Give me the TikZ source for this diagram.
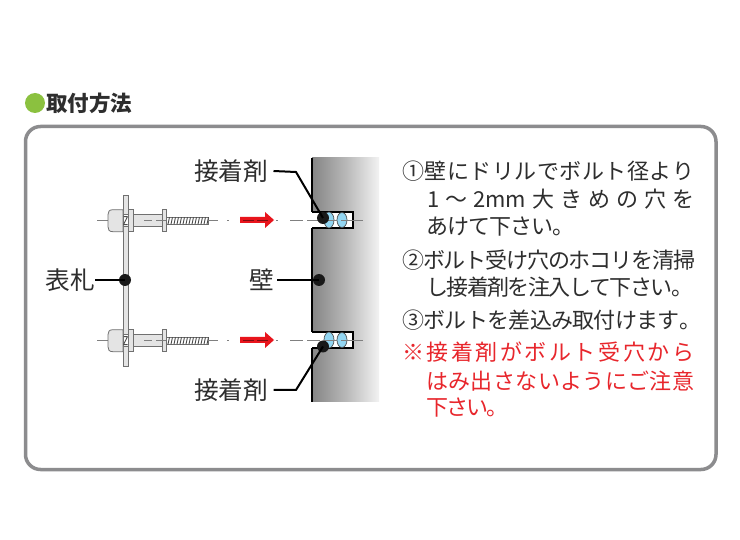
\documentclass[tikz,border=0pt]{standalone}
\usepackage{fontspec}
\setmainfont{Noto Sans CJK JP}
\usetikzlibrary{calc}
\definecolor{ink}{HTML}{2E2E2E}
\definecolor{redtx}{HTML}{E8262C}
\definecolor{arrowred}{HTML}{E8141C}
\definecolor{framegray}{HTML}{8C8C8E}
\definecolor{dotgreen}{HTML}{8BC13F}
\definecolor{boltline}{HTML}{707070}
\definecolor{boltfill}{HTML}{E4E4E4}
\definecolor{lensblue}{HTML}{93D6F2}
\makeatletter
\newcommand\spr[2]{\hbox to #1{\def\sepx{}\@tfor\chx:=#2\do{\sepx\chx\def\sepx{\hskip 0pt plus 1fil minus 1fil}}}}
\makeatother
\tikzset{
  body/.style={anchor=west,inner sep=0pt,text=ink,font=\fontsize{22}{22}\selectfont},
  redbody/.style={body,text=redtx},
  lbl/.style={inner sep=0pt,text=ink,font=\fontsize{24.7}{24.7}\selectfont},
  blackdot/.style={circle,fill=black!90,inner sep=0pt,minimum size=12pt},
  lead/.style={draw=black,line width=2pt,line join=miter},
  boltpart/.style={draw=boltline,fill=boltfill,line width=0.8pt},
  centerln/.style={draw=black!50,line width=0.7pt},
  lens/.style={draw=black!70,line width=0.7pt,fill=lensblue},
  boltpic/.pic={
    \draw[centerln] (97,0) -- (108,0);
    \draw[boltpart] (123,-11) -- (113,-11) .. controls (109,-11) and (108,-9) .. (108,-6) -- (108,6) .. controls (108,9) and (109,11) .. (113,11) -- (123,11) -- cycle;
    \draw[boltpart] (133,-6) rectangle (162,6);
    \draw[boltpart] (128,-11) rectangle (133,11);
    \draw[boltpart] (162,-11) rectangle (166.5,11);
    \draw[boltpart,fill=white] (166.5,-3.5) rectangle (208,3.5);
    \foreach \tx in {168,171,...,207} {\draw[black!70,line width=0.9pt] (\tx,3.5) -- (\tx+1.5,-3.5);}
    \draw[boltline,line width=0.9pt,fill=white] (123,-6) rectangle (128,6);
    \draw[black!70,line width=0.9pt] (123.5,4) -- (127.5,-4) (123.5,-4) -- (127.5,-4) (123.5,4) -- (127.5,4);
    \draw[centerln] (144,0) -- (152,0) (156,0) -- (166,0) (208,0) -- (218,0) (227,0) -- (229,0);
  },
  holepic/.pic={
    \fill[white] (311,-8) rectangle (353,8);
    \draw[line width=1.5pt,black] (312,-8) -- (353,-8) -- (353,8) -- (312,8);
    \draw[lens] (329,0) ellipse (5 and 8);
    \draw[lens] (342,0) ellipse (5 and 7.5);
    \draw[centerln] (290,0) -- (303,0) (307,0) -- (320,0) (324,0) -- (337,0) (341,0) -- (363,0);
  },
  arrowpic/.pic={
    \fill[arrowred] (240,-3) -- (265,-3) -- (265,-8) -- (274,0) -- (265,8) -- (265,3) -- (240,3) -- cycle;
    \draw[arrowred!55!black,line width=0.6pt] (243,0) -- (254,0) (257,0) -- (268,0);
    \draw[centerln] (276,0) -- (278,0);
  }
}
\begin{document}
\begin{tikzpicture}[x=1pt,y=-1pt]
\useasboundingbox (0,0) rectangle (740,540);
\fill[white] (0,0) rectangle (740,540);
% heading
\node[circle,fill=dotgreen,inner sep=0pt,minimum size=20pt] (hdot) at (35,103) {};
\node[anchor=west,inner sep=0pt,text=ink,font=\fontsize{21.5}{21.5}\selectfont\bfseries] (head) at (46,103) {取付方法};
% frame
\draw[framegray,line width=3.5pt,rounded corners=15pt] (25.5,126.5) rectangle (716,469.5);
% wall
\shade[left color=black!48,right color=black!5,middle color=black!28] (312,158) rectangle (379,402);
\draw[black,line width=1.5pt] (312,158) -- (312,212) (312,228) -- (312,332) (312,348) -- (312,402);
\pic at (0,220) {holepic};
\pic at (0,340) {holepic};
% plate and bolts
\draw[boltpart] (123,195) rectangle (128,366);
\pic at (0,220.7) {boltpic};
\pic at (0,340.7) {boltpic};
\pic at (0,220) {arrowpic};
\pic at (0,340) {arrowpic};
% labels and leaders
\node[lbl,anchor=east] (glueA) at (268.5,171) {接着剤};
\node[lbl,anchor=east] (glueB) at (268.5,390) {接着剤};
\node[lbl,anchor=east] (plate) at (95,280) {表札};
\node[lbl,anchor=east] (wall) at (274,280) {壁};
\node[blackdot] (dotA) at (323,218) {};
\node[blackdot] (dotB) at (323,346.5) {};
\node[blackdot] (dotP) at (125,280) {};
\node[blackdot] (dotW) at (319,280) {};
\coordinate (elbowA) at (296,172);
\coordinate (elbowB) at (296,390);
\draw[lead] ([xshift=5pt]glueA.east) -- (elbowA) -- (dotA.center);
\draw[lead] ([xshift=5pt]glueB.east) -- (elbowB) -- (dotB.center);
\draw[lead] (plate.east) -- (dotP.center);
\draw[lead] ([xshift=3pt]wall.east) -- (dotW.center);
% body text
\node[body] (t1) at (402,171) {\spr{292pt}{①壁にドリルでボルト径より}};
\node[body] (t2) at (427,199) {\spr{267pt}{1〜{2mm}大きめの穴を}};
\node[body] (t3) at (426,227) {\spr{148pt}{あけて下さい。}};
\node[body] (t4) at (402,260) {\spr{293pt}{②ボルト受け穴のホコリを清掃}};
\node[body] (t5) at (426,287) {\spr{267pt}{し接着剤を注入して下さい。}};
\node[body] (t6) at (402,320) {\spr{299pt}{③ボルトを差込み取付けます。}};
\node[redbody] (t7) at (402,352) {\spr{292pt}{※接着剤がボルト受穴から}};
\node[redbody] (t8) at (426,381) {\spr{268pt}{はみ出さないようにご注意}};
\node[redbody] (t9) at (426,408) {\spr{82pt}{下さい。}};
\end{tikzpicture}
\end{document}
